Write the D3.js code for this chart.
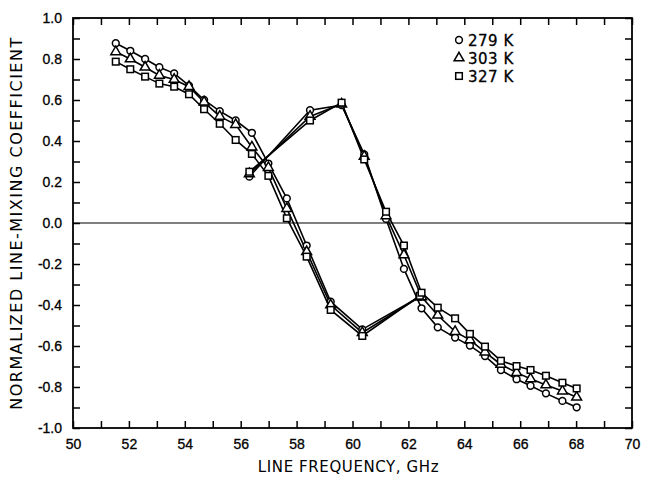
<!DOCTYPE html>
<html>
<head>
<meta charset="utf-8">
<script src="https://cdn.jsdelivr.net/npm/d3@7"></script>
<style>
  body { margin: 0; background: #fff; }
  svg { display: block; font-family: "DejaVu Sans", sans-serif; }
  .axis path { display: none; }
  .axis line { stroke: #000; stroke-width: 1.5; }
  .axis text { font-size: 14px; fill: #000; stroke: #000; stroke-width: 0.3; }
</style>
</head>
<body>
<div id="chart"></div>
<script>
const width = 648;
const height = 479;
const margin = { top: 18, right: 16, bottom: 51, left: 73 };

// N- branch (low-frequency side, ends at ~62.4 GHz)
const freqMinus = [51.53, 52.05, 52.58, 53.09, 53.62, 54.15, 54.69, 55.25, 55.82, 56.40, 56.99, 57.65, 58.36, 59.22, 60.35, 62.41];
const k279Minus = [0.877, 0.84, 0.80, 0.76, 0.73, 0.67, 0.60, 0.546, 0.50, 0.44, 0.29, 0.12, -0.11, -0.384, -0.519, -0.36];
const k303Minus = [0.835, 0.80, 0.76, 0.72, 0.70, 0.665, 0.59, 0.52, 0.48, 0.37, 0.27, 0.07, -0.14, -0.40, -0.535, -0.36];
const k327Minus = [0.787, 0.75, 0.714, 0.68, 0.665, 0.628, 0.555, 0.484, 0.405, 0.337, 0.23, 0.023, -0.164, -0.424, -0.551, -0.355];

// N+ branch (starts at ~56.3 GHz)
const freqPlus = [56.31, 58.48, 59.61, 60.42, 61.20, 61.84, 62.47, 63.05, 63.67, 64.20, 64.74, 65.31, 65.87, 66.37, 66.92, 67.51, 68.02];
const k279Plus = [0.226, 0.55, 0.575, 0.335, 0.02, -0.224, -0.416, -0.509, -0.559, -0.598, -0.649, -0.717, -0.762, -0.794, -0.831, -0.868, -0.899];
const k303Plus = [0.24, 0.52, 0.58, 0.325, 0.035, -0.156, -0.36, -0.45, -0.53, -0.57, -0.63, -0.69, -0.73, -0.76, -0.79, -0.82, -0.85];
const k327Plus = [0.25, 0.50, 0.587, 0.31, 0.055, -0.11, -0.34, -0.413, -0.465, -0.541, -0.603, -0.672, -0.698, -0.717, -0.745, -0.779, -0.807];

const xTicks = d3.range(50, 71, 1);
const yTicks = d3.range(-10, 11).map((i) => i / 10);
const legendLabels = ["279  K", "303  K", "327  K"];

const series = [
  { name: legendLabels[0], marker: "circle", minus: k279Minus, plus: k279Plus },
  { name: legendLabels[1], marker: "triangle", minus: k303Minus, plus: k303Plus },
  { name: legendLabels[2], marker: "square", minus: k327Minus, plus: k327Plus },
];

const svg = d3
  .select("#chart")
  .append("svg")
  .attr("width", width)
  .attr("height", height);

const x = d3.scaleLinear().domain([50, 70]).range([margin.left, width - margin.right]);
const y = d3.scaleLinear().domain([-1, 1]).range([height - margin.bottom, margin.top]);

// axes, ticks pointing inward
svg
  .append("g")
  .attr("class", "axis")
  .attr("transform", `translate(0, ${y(-1)})`)
  .call(
    d3.axisBottom(x).tickValues(xTicks).tickSize(-7).tickPadding(11)
      .tickFormat((d) => (d % 2 === 0 ? d : ""))
  );

svg
  .append("g")
  .attr("class", "axis")
  .attr("transform", `translate(0, ${y(1)})`)
  .call(d3.axisTop(x).tickValues(xTicks).tickSize(-7).tickFormat(""));

svg
  .append("g")
  .attr("class", "axis")
  .attr("transform", `translate(${x(50)}, 0)`)
  .call(
    d3.axisLeft(y).tickValues(yTicks).tickSize(-7).tickPadding(11)
      .tickFormat((d) => (Math.round(d * 10) % 2 === 0 ? d.toFixed(1) : ""))
  );

svg
  .append("g")
  .attr("class", "axis")
  .attr("transform", `translate(${x(70)}, 0)`)
  .call(d3.axisRight(y).tickValues(yTicks).tickSize(-7).tickFormat(""));

// frame
svg
  .append("rect")
  .attr("x", x(50))
  .attr("y", y(1))
  .attr("width", x(70) - x(50))
  .attr("height", y(-1) - y(1))
  .attr("fill", "none")
  .attr("stroke", "#000")
  .attr("stroke-width", 1.8);

// zero line
svg
  .append("line")
  .attr("x1", x(50))
  .attr("x2", x(70))
  .attr("y1", y(0))
  .attr("y2", y(0))
  .attr("stroke", "#000")
  .attr("stroke-width", 1.2);

const line = d3
  .line()
  .x((d) => x(d[0]))
  .y((d) => y(d[1]));

function drawMarker(g, type, px, py) {
  if (type === "circle") {
    g.append("circle").attr("cx", px).attr("cy", py).attr("r", 3.4);
  } else if (type === "square") {
    g.append("rect").attr("x", px - 3.3).attr("y", py - 3.3).attr("width", 6.6).attr("height", 6.6);
  } else {
    g.append("path")
      .attr("transform", `translate(${px}, ${py})`)
      .attr("d", d3.symbol(d3.symbolTriangle).size(42)());
  }
}

const lineLayer = svg.append("g");
const markLayer = svg.append("g").attr("fill", "#fff").attr("stroke", "#000").attr("stroke-width", 1.5);

series.forEach((s) => {
  const minusPts = freqMinus.map((f, i) => [f, s.minus[i]]);
  const plusPts = freqPlus.map((f, i) => [f, s.plus[i]]);
  [minusPts, plusPts].forEach((pts) => {
    lineLayer
      .append("path")
      .attr("d", line(pts))
      .attr("fill", "none")
      .attr("stroke", "#000")
      .attr("stroke-width", 1.6);
  });
});

series.forEach((s) => {
  const pts = freqMinus.map((f, i) => [f, s.minus[i]]).concat(freqPlus.map((f, i) => [f, s.plus[i]]));
  pts.forEach((p) => drawMarker(markLayer, s.marker, x(p[0]), y(p[1])));
});

// legend
const legend = svg.append("g").attr("transform", "translate(459, 40)");
series.forEach((s, i) => {
  const g = legend.append("g").attr("fill", "#fff").attr("stroke", "#000").attr("stroke-width", 1.5);
  drawMarker(g, s.marker, 0, i * 18);
  legend
    .append("text")
    .attr("x", 9)
    .attr("y", i * 18 + 6)
    .attr("font-size", 15)
    .attr("stroke", "#000")
    .attr("stroke-width", 0.3)
    .attr("letter-spacing", 0.5)
    .text(s.name);
});

// axis titles
svg
  .append("text")
  .attr("x", (x(50) + x(70)) / 2 - 4)
  .attr("y", 472)
  .attr("text-anchor", "middle")
  .attr("font-size", 15)
  .attr("letter-spacing", 0.6)
  .text("LINE FREQUENCY, GHz");

svg
  .append("text")
  .attr("transform", `translate(22, ${y(0)}) rotate(-90)`)
  .attr("text-anchor", "middle")
  .attr("font-size", 16)
  .attr("letter-spacing", 1.5)
  .text("NORMALIZED LINE-MIXING  COEFFICIENT");
</script>
</body>
</html>
